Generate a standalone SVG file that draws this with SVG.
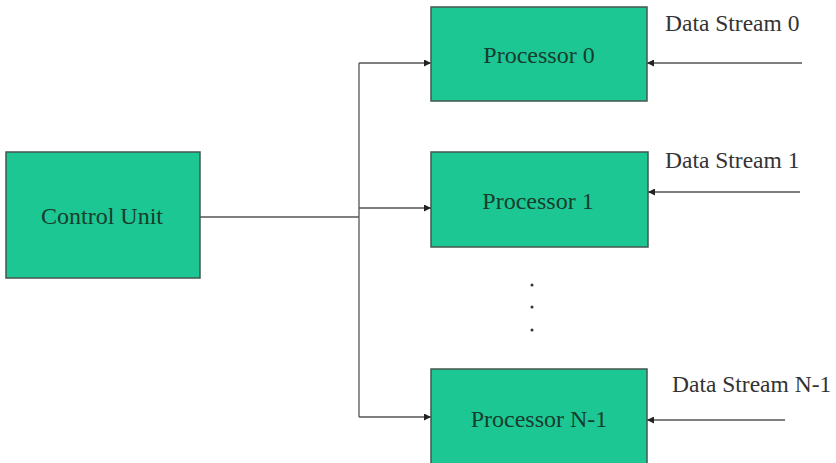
<svg xmlns="http://www.w3.org/2000/svg" width="836" height="463" viewBox="0 0 836 463">
  <defs>
    <marker id="arrow" viewBox="0 0 10 10" refX="10" refY="5" markerWidth="7" markerHeight="7" markerUnits="userSpaceOnUse" orient="auto">
      <path d="M0,0 L10,5 L0,10 z" fill="#222"/>
    </marker>
    <style>
      .box { fill: #1cc794; stroke: #46564e; stroke-width: 1.5; }
      .label { font-family: "Liberation Serif", "Times New Roman", serif; font-size: 24px; fill: #173d2c; text-anchor: middle; }
      .stream { font-family: "Liberation Serif", "Times New Roman", serif; font-size: 23.5px; fill: #333; }
      .wire { fill: none; stroke: #555; stroke-width: 1.3; }
      .dot { fill: #333; }
    </style>
  </defs>
  <rect width="836" height="463" fill="#ffffff"/>

  <!-- control bus and data streams -->
  <g id="connectors">
    <path class="wire" d="M200,217 H359 M359,63 V417"/>
    <path class="wire" d="M359,63 H431" marker-end="url(#arrow)"/>
    <path class="wire" d="M359,208 H431" marker-end="url(#arrow)"/>
    <path class="wire" d="M359,417 H431" marker-end="url(#arrow)"/>
    <path class="wire" d="M802,63 H647" marker-end="url(#arrow)"/>
    <path class="wire" d="M800,192 H648" marker-end="url(#arrow)"/>
    <path class="wire" d="M785,420 H647" marker-end="url(#arrow)"/>
  </g>

  <g id="control-unit">
    <rect class="box" x="6" y="152" width="194" height="126"/>
    <text class="label" x="102" y="224">Control Unit</text>
  </g>

  <g id="processor-0">
    <rect class="box" x="431" y="7" width="216" height="94"/>
    <text class="label" x="539" y="63">Processor 0</text>
  </g>

  <g id="processor-1">
    <rect class="box" x="431" y="152" width="217" height="95"/>
    <text class="label" x="538" y="209">Processor 1</text>
  </g>

  <g id="processor-n-1">
    <rect class="box" x="431" y="369" width="216" height="100"/>
    <text class="label" x="539" y="427">Processor N-1</text>
  </g>

  <g id="stream-labels">
    <text class="stream" x="665" y="31">Data Stream 0</text>
    <text class="stream" x="665" y="168">Data Stream 1</text>
    <text class="stream" x="672" y="392">Data Stream N-1</text>
  </g>

  <g id="ellipsis">
    <circle class="dot" cx="532" cy="285" r="1.5"/>
    <circle class="dot" cx="532" cy="307" r="1.5"/>
    <circle class="dot" cx="532" cy="330" r="1.5"/>
  </g>
</svg>
